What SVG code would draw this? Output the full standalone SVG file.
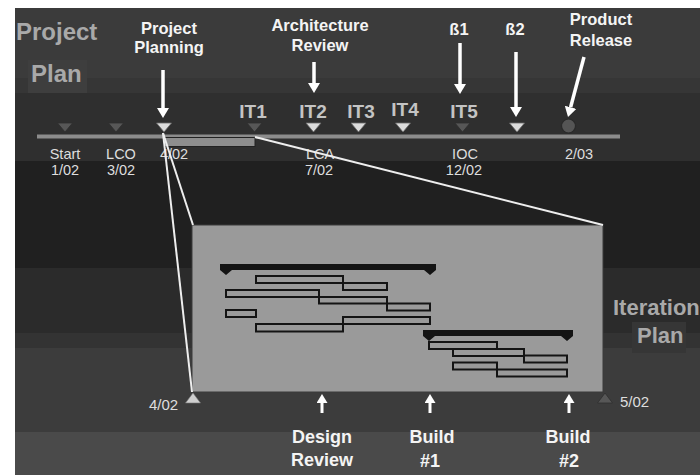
<svg xmlns="http://www.w3.org/2000/svg" width="700" height="475" viewBox="0 0 700 475">
  <defs>
    <marker id="head" markerUnits="userSpaceOnUse" markerWidth="10" markerHeight="12" viewBox="0 0 10 12" refX="0" refY="6" orient="auto">
      <path d="M0,0 L10,6 L0,12 Z" fill="#ffffff"/>
    </marker>
    <marker id="head-sm" markerUnits="userSpaceOnUse" markerWidth="9" markerHeight="11" viewBox="0 0 9 11" refX="0" refY="5.5" orient="auto">
      <path d="M0,0 L9,5.5 L0,11 Z" fill="#ffffff"/>
    </marker>
  </defs>
  <style>
    text { font-family: "Liberation Sans", Arial, sans-serif; }
    .title { font-size: 24px; font-weight: bold; fill: #a9a9a9; }
    .title2 { font-size: 22px; font-weight: bold; fill: #a9a9a9; }
    .call { font-size: 16.5px; font-weight: bold; fill: #f4f4f4; text-anchor: middle; }
    .call-b { font-size: 18px; font-weight: bold; fill: #f4f4f4; text-anchor: middle; }
    .it { font-size: 19px; font-weight: bold; fill: #c4c4c4; text-anchor: middle; }
    .date { font-size: 14.5px; fill: #dedede; text-anchor: middle; }
    .date-l { font-size: 15px; fill: #dedede; }
    .tri-dark { fill: #575757; stroke: #2e2e2e; stroke-width: 0.8; }
    .tri-light { fill: #dcdcdc; stroke: #6a6a6a; stroke-width: 0.8; }
    .task { fill: none; stroke: #141414; stroke-width: 2; }
    .summary { fill: #141414; }
    .zoom-line { stroke: #eeeeee; stroke-width: 2; fill: none; }
    .arrow { stroke: #ffffff; stroke-width: 3.5; marker-end: url(#head); }
    .arrow-up { stroke: #ffffff; stroke-width: 3; marker-end: url(#head-sm); }
  </style>

  <!-- page margin and banded background -->
  <rect x="0" y="0" width="700" height="475" fill="#ffffff"/>
  <g id="background">
    <rect x="15" y="8" width="685" height="70" fill="#3b3b3b"/>
    <rect x="15" y="78" width="685" height="15" fill="#363636"/>
    <rect x="15" y="93" width="685" height="68" fill="#2f2f2f"/>
    <rect x="15" y="161" width="685" height="107" fill="#202020"/>
    <rect x="15" y="268" width="685" height="65" fill="#2b2b2b"/>
    <rect x="15" y="333" width="685" height="15" fill="#333333"/>
    <rect x="15" y="348" width="685" height="84" fill="#3c3c3c"/>
    <rect x="15" y="432" width="685" height="43" fill="#4a4a4a"/>
  </g>

  <!-- section headings -->
  <g id="project-plan">
    <text class="title" x="16" y="40">Project</text>
    <rect x="28" y="60" width="59" height="33" fill="#3e3e3e"/>
    <text class="title" x="31" y="82">Plan</text>
  </g>
  <g id="iteration-plan">
    <rect x="632" y="322" width="54" height="31" fill="#363636"/>
    <text class="title2" x="613" y="315">Iteration</text>
    <text class="title2" x="637" y="343">Plan</text>
  </g>

  <!-- project timeline -->
  <g id="timeline">
    <rect x="37" y="134.5" width="583" height="4" fill="#8c8c8c"/>
    <rect x="164" y="137.5" width="91" height="9" fill="#8e8e8e" stroke="#222222" stroke-width="1"/>
  </g>

  <g id="m-start">
    <path class="tri-dark" d="M57.5,123 L72.5,123 L65,132 Z"/>
    <text class="date" x="65" y="159">Start</text>
    <text class="date" x="65" y="175">1/02</text>
  </g>
  <g id="m-lco">
    <path class="tri-dark" d="M108.5,123 L123.5,123 L116,132 Z"/>
    <text class="date" x="121" y="159">LCO</text>
    <text class="date" x="121" y="175">3/02</text>
  </g>
  <g id="m-planning">
    <path class="tri-light" d="M156.5,123 L171.5,123 L164,132 Z"/>
    <text class="date" x="174" y="159">4/02</text>
  </g>
  <g id="m-it1">
    <text class="it" x="253" y="118">IT1</text>
    <path class="tri-dark" d="M247,123 L262,123 L254.5,132 Z"/>
  </g>
  <g id="m-it2">
    <text class="it" x="313" y="118">IT2</text>
    <path class="tri-light" d="M306,123 L321,123 L313.5,132 Z"/>
    <text class="date" x="320" y="159">LCA</text>
    <text class="date" x="319" y="175">7/02</text>
  </g>
  <g id="m-it3">
    <text class="it" x="361" y="118">IT3</text>
    <path class="tri-light" d="M351,123 L366,123 L358.5,132 Z"/>
  </g>
  <g id="m-it4">
    <text class="it" x="405" y="116">IT4</text>
    <path class="tri-light" d="M395.5,123 L410.5,123 L403,132 Z"/>
  </g>
  <g id="m-it5">
    <text class="it" x="464" y="118">IT5</text>
    <path class="tri-dark" d="M455,123 L470,123 L462.5,132 Z"/>
    <text class="date" x="465" y="159">IOC</text>
    <text class="date" x="464" y="175">12/02</text>
  </g>
  <g id="m-beta2">
    <path class="tri-light" d="M509.5,123 L524.5,123 L517,132 Z"/>
  </g>
  <g id="m-release">
    <circle cx="568.5" cy="126" r="7" fill="#555555" stroke="#2a2a2a" stroke-width="1.2"/>
    <text class="date" x="579" y="159">2/03</text>
  </g>

  <!-- callouts above the timeline -->
  <g id="c-planning">
    <text class="call" x="169" y="34">Project</text>
    <text class="call" x="169" y="53">Planning</text>
  </g>
  <g id="c-arch">
    <text class="call" x="320" y="31">Architecture</text>
    <text class="call" x="320" y="51">Review</text>
  </g>
  <g id="c-beta1">
    <text class="call" x="459" y="35">ß1</text>
  </g>
  <g id="c-beta2">
    <text class="call" x="515" y="35">ß2</text>
  </g>
  <g id="c-release">
    <text class="call" x="601" y="25">Product</text>
    <text class="call" x="601" y="46">Release</text>
  </g>

  <!-- iteration plan detail -->
  <g id="iteration-box">
    <rect x="192" y="225" width="411" height="167" fill="#9a9a9a" stroke="#3a3a3a" stroke-width="1"/>
    <!-- first phase -->
    <path class="summary" d="M220,264 H436 V270 H436 L430,275 L424,270 H232 L226,275 L220,270 Z"/>
    <rect class="task" x="256" y="276" width="87" height="7"/>
    <rect class="task" x="343" y="283" width="44" height="7"/>
    <rect class="task" x="226" y="290" width="93" height="7"/>
    <rect class="task" x="319" y="297" width="68" height="6.5"/>
    <rect class="task" x="387" y="303.5" width="43" height="7"/>
    <rect class="task" x="226" y="310" width="30" height="7"/>
    <rect class="task" x="343" y="317" width="87" height="7"/>
    <rect class="task" x="256" y="324" width="87" height="7.5"/>
    <!-- second phase -->
    <path class="summary" d="M423,330 H573 V336 L567,341 L561,336 H435 L429,341 L423,336 Z"/>
    <rect class="task" x="429" y="342" width="68" height="7"/>
    <rect class="task" x="453" y="349" width="71" height="7"/>
    <rect class="task" x="524" y="355.5" width="43" height="7"/>
    <rect class="task" x="453" y="362.5" width="44" height="7"/>
    <rect class="task" x="497" y="369.5" width="70" height="7"/>
  </g>

  <g id="box-start">
    <path d="M185.5,403 L200.5,403 L193,393 Z" fill="#cfcfcf" stroke="#777777" stroke-width="0.6"/>
    <text class="date-l" x="149" y="410">4/02</text>
  </g>
  <g id="box-end">
    <path class="tri-dark" d="M597.5,403 L612.5,403 L605,393 Z"/>
    <text class="date-l" x="620" y="407">5/02</text>
  </g>

  <!-- callouts below the iteration plan -->
  <g id="c-design">
    <text class="call-b" x="322" y="443">Design</text>
    <text class="call-b" x="322" y="466">Review</text>
  </g>
  <g id="c-build1">
    <text class="call-b" x="432" y="443">Build</text>
    <text class="call-b" x="430" y="467">#1</text>
  </g>
  <g id="c-build2">
    <text class="call-b" x="568" y="443">Build</text>
    <text class="call-b" x="569" y="467">#2</text>
  </g>

  <!-- connectors -->
  <g id="connectors">
    <line class="zoom-line" x1="163" y1="133" x2="193" y2="225"/>
    <line class="zoom-line" x1="163" y1="133" x2="192" y2="392"/>
    <line class="zoom-line" x1="255" y1="137" x2="603" y2="225"/>

    <line class="arrow" x1="163" y1="70" x2="163" y2="108"/>
    <line class="arrow" x1="314" y1="62" x2="314" y2="83"/>
    <line class="arrow" x1="460" y1="43" x2="460" y2="84"/>
    <line class="arrow" x1="516" y1="52" x2="516" y2="107"/>
    <line class="arrow" x1="584" y1="57" x2="570.6" y2="107.3"/>

    <line class="arrow-up" x1="322" y1="413" x2="322" y2="403"/>
    <line class="arrow-up" x1="430" y1="413" x2="430" y2="403"/>
    <line class="arrow-up" x1="569" y1="413" x2="569" y2="403"/>
  </g>
</svg>
